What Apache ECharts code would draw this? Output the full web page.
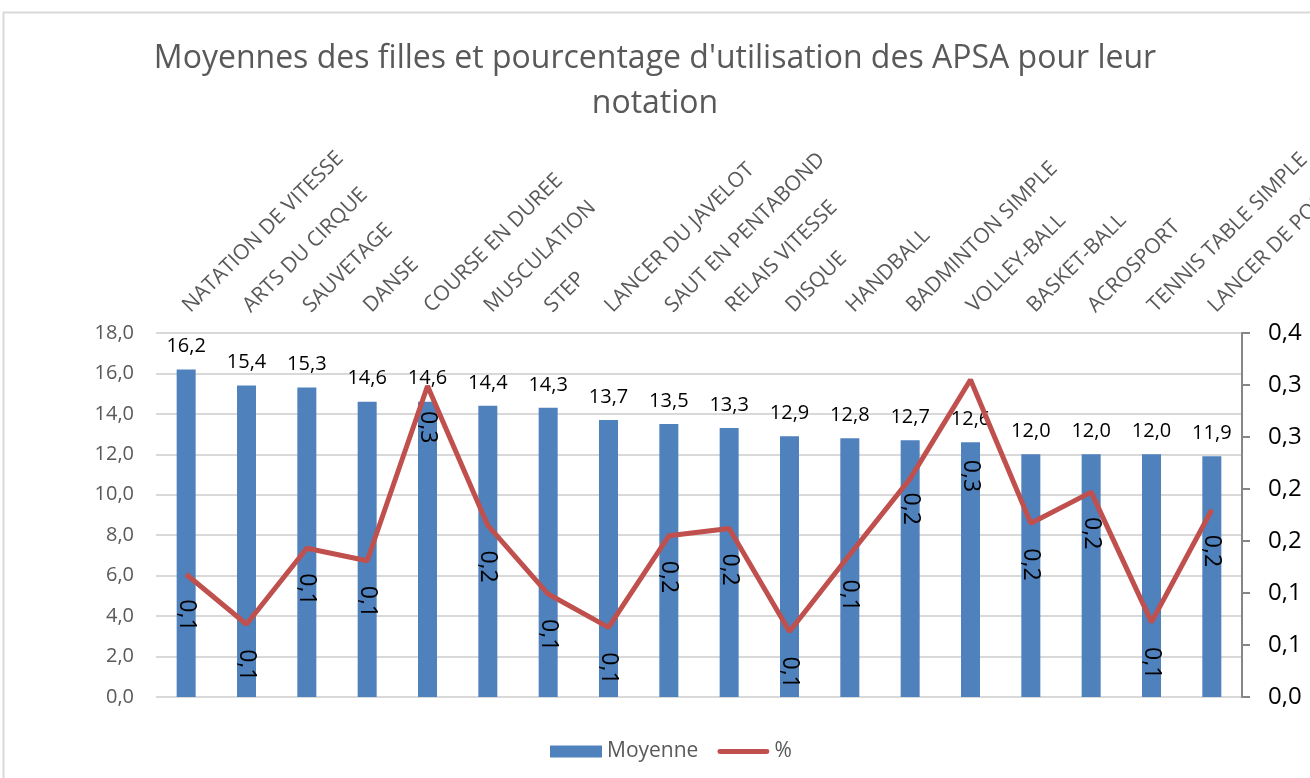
<!DOCTYPE html>
<html>
<head>
<meta charset="utf-8">
<script src="https://cdn.jsdelivr.net/npm/echarts@6/dist/echarts.min.js"></script>
<style>
  html, body { margin: 0; padding: 0; background: #fff; }
  #main { width: 1310px; height: 778px; }
</style>
</head>
<body>
<div id="main"></div>
<script>
// APSA (categories)
var apsa = ['NATATION DE VITESSE', 'ARTS DU CIRQUE', 'SAUVETAGE', 'DANSE', 'COURSE EN DUREE',
  'MUSCULATION', 'STEP', 'LANCER DU JAVELOT', 'SAUT EN PENTABOND', 'RELAIS VITESSE', 'DISQUE',
  'HANDBALL', 'BADMINTON SIMPLE', 'VOLLEY-BALL', 'BASKET-BALL', 'ACROSPORT',
  'TENNIS TABLE SIMPLE', 'LANCER DE POIDS'];

// moyenne des filles
var moyenne = [16.2, 15.4, 15.3, 14.6, 14.6, 14.4, 14.3, 13.7, 13.5, 13.3, 12.9,
  12.8, 12.7, 12.6, 12.0, 12.0, 12.0, 11.9];

var pourcentage = [0.118, 0.070, 0.143, 0.131, 0.299, 0.165, 0.099, 0.067, 0.155, 0.162, 0.063,
  0.137, 0.210, 0.305, 0.167, 0.197, 0.072, 0.180];

// les etiquettes deplacees a la main dans l'original
var labelShift = { 12: 14, 13: 80 };

var chart = echarts.init(document.getElementById('main'));

var comma1 = function (v) {
  return (Math.round(v * 10) / 10).toFixed(1).replace('.', ',');
};

var pctData = pourcentage.map(function (v, i) {
  if (labelShift[i] != null) {
    return { value: v, label: { distance: labelShift[i] } };
  }
  return v;
});

var option = {
  animation: false,
  backgroundColor: '#fff',
  textStyle: { fontFamily: 'Open Sans' },
  title: {
    text: "Moyennes des filles et pourcentage d'utilisation des APSA pour leur\nnotation",
    left: 'center',
    top: 31,
    textStyle: { fontFamily: 'Open Sans', fontSize: 32, fontWeight: 'normal', color: '#595959', lineHeight: 45 }
  },
  graphic: [{
    type: 'rect',
    shape: { x: 3.5, y: 12.5, width: 1400, height: 900 },
    style: { fill: 'none', stroke: '#d9d9d9', lineWidth: 2 },
    silent: true
  }],
  legend: {
    bottom: 11,
    left: 545,
    itemWidth: 52,
    itemHeight: 12,
    itemGap: 19,
    textStyle: { fontFamily: 'Open Sans', fontSize: 21, color: '#595959' },
    data: [
      { name: 'Moyenne', icon: 'rect' },
      { name: '%', icon: 'path://M0,0L0.1,0M2,3.5L50,3.5A2.5,2.5,0,0,1,50,8.5L2,8.5A2.5,2.5,0,0,1,2,3.5ZM0,12L0.1,12' }
    ]
  },
  grid: { left: 156, right: 68, top: 333, bottom: 81, outerBoundsMode: 'none', containLabel: false },
  xAxis: {
    type: 'category',
    position: 'top',
    data: apsa,
    axisLine: { show: false },
    axisTick: { show: false },
    axisLabel: { rotate: 45, margin: 24, fontSize: 21, color: '#595959', fontFamily: 'Open Sans', interval: 0 }
  },
  yAxis: [{
    type: 'value',
    min: 0, max: 18, interval: 2,
    axisLine: { show: false },
    axisTick: { show: false },
    axisLabel: { fontSize: 20, color: '#595959', margin: 22, formatter: comma1 },
    splitLine: { lineStyle: { color: '#d9d9d9', width: 2 } }
  }, {
    type: 'value',
    min: 0, max: 0.35, interval: 0.05,
    axisLine: { show: true, lineStyle: { color: '#868686', width: 2 } },
    axisTick: { show: true, length: 8, lineStyle: { color: '#868686', width: 2 } },
    axisLabel: { fontSize: 24, color: '#000', margin: 26, formatter: comma1 },
    splitLine: { show: false }
  }],
  series: [{
    name: 'Moyenne',
    type: 'bar',
    data: moyenne,
    barWidth: 19,
    itemStyle: { color: '#4f81bd' },
    label: {
      show: true, position: 'top', distance: 13,
      fontSize: 20, color: '#000', fontFamily: 'Open Sans',
      formatter: function (p) { return p.value.toFixed(1).replace('.', ','); }
    }
  }, {
    name: '%',
    type: 'line',
    yAxisIndex: 1,
    data: pctData,
    symbol: 'circle',
    symbolSize: 0,
    showSymbol: true,
    lineStyle: { color: '#c0504d', width: 5 },
    itemStyle: { color: '#c0504d' },
    label: {
      show: true, position: 'bottom', distance: 25, rotate: -90,
      align: 'left', verticalAlign: 'middle',
      fontSize: 23, color: '#000', fontFamily: 'Open Sans',
      formatter: function (p) { return comma1(p.value); }
    },
    z: 3
  }]
};

chart.setOption(option);
</script>
</body>
</html>
